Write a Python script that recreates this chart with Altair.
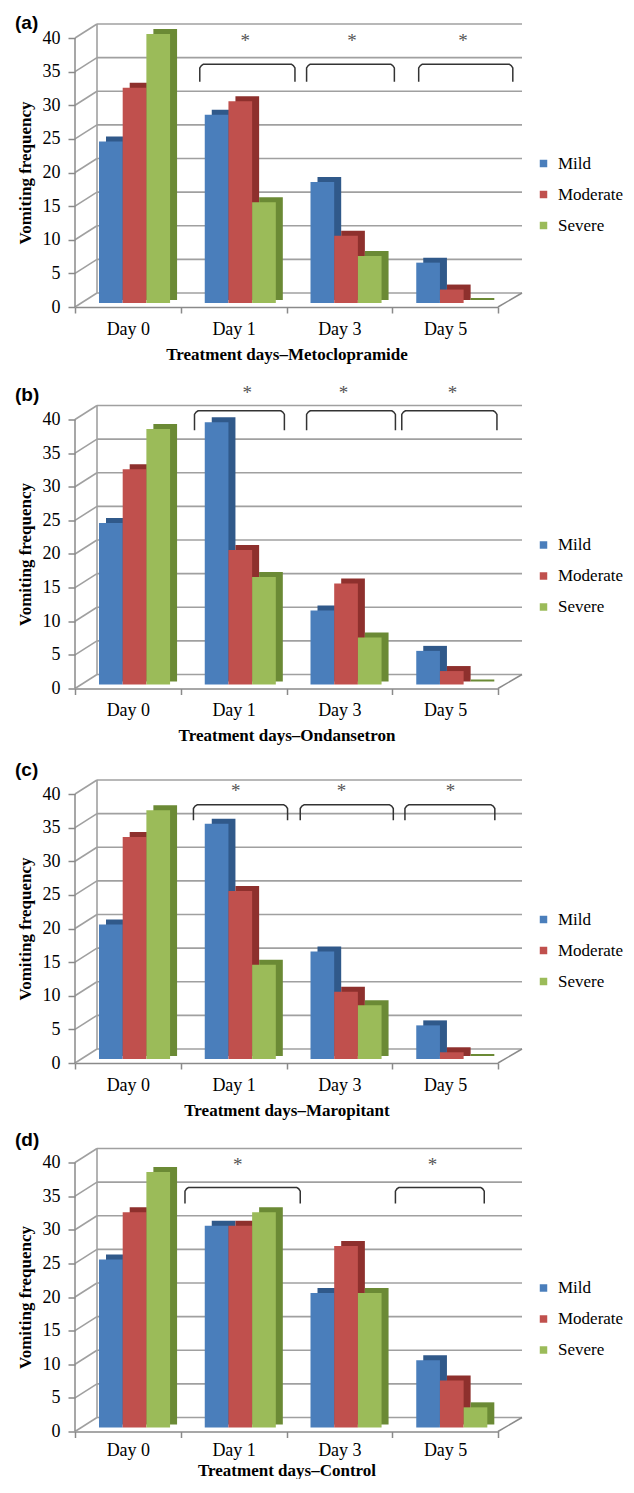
import json
import altair as alt
import pandas as pd

# ---------------- data ----------------
days = ["Day 0", "Day 1", "Day 3", "Day 5"]
severities = ["Mild", "Moderate", "Severe"]
panel_letters = ["(a)", "(b)", "(c)", "(d)"]
x_titles = [
    "Treatment days\u2013Metoclopramide",
    "Treatment days\u2013Ondansetron",
    "Treatment days\u2013Maropitant",
    "Treatment days\u2013Control",
]
y_title = "Vomiting frequency"

# one list per panel (a-d), values per day
mild = [[24, 28, 18, 6], [24, 39, 11, 5], [20, 35, 16, 5], [25, 30, 20, 10]]
moderate = [[32, 30, 10, 2], [32, 20, 15, 2], [33, 25, 10, 1], [32, 30, 27, 7]]
severe = [[40, 15, 7, 0], [38, 16, 7, 0], [37, 14, 8, 0], [38, 32, 20, 3]]

y_ticks = [0, 5, 10, 15, 20, 25, 30, 35, 40]
y_top = [40, 42.23, 41.19, 40.30]          # top of each plot area (value units)

# significance brackets (day units on the x axis) and asterisks
bracket_start = [[1.18, 2.19, 3.25], [1.13, 2.19, 3.09], [1.12, 2.13, 3.12], [1.04, 3.03]]
bracket_end = [[2.08, 3.02, 4.14], [1.98, 3.03, 3.99], [2.01, 3.01, 3.97], [2.13, 3.87]]
bracket_top = [36.1, 41.3, 38.4, 36.3]
bracket_foot = [33.5, 38.4, 36.1, 33.9]
star_x = [[1.61, 2.62, 3.67], [1.63, 2.54, 3.57], [1.52, 2.52, 3.55], [1.54, 3.38]]
star_y = [39.6, 43.9, 40.5, 39.7]

# ---------------- style ----------------
front_colors = ["#4a7ebb", "#c0504d", "#9bbb59"]
dark_colors = ["#30598a", "#8e302d", "#6b8a35"]
GRID = "#a0a0a0"
AX = "#8a8a8a"
SERIF = "Liberation Serif"
SANS = "Liberation Sans"
PX = 269 / 40.0        # pixels per value unit
W = 423
S = 97.5
G0 = 0.227             # start of bar group inside a day band
BW = 0.224             # bar width in day units
TITLE_OFFSET = [-9.4, -20.7, -0.6, -1.9]
X_LABEL_PAD = [7, 7, 7, 4]
X_TITLE_PAD = [8, 8, 8, 3]


def panel(i):
    H = round(y_top[i] * PX)
    xs = alt.Scale(domain=[0, 4], nice=False, zero=False)
    ys = alt.Scale(domain=[0, y_top[i]], nice=False, zero=False)

    day_expr = (f"datum.value % 1 == 0.5 ? {json.dumps(days)}[floor(datum.value)] : ''")
    x_axis = alt.Axis(
        values=[k / 2 for k in range(9)], labelExpr=day_expr,
        tickOpacity={"condition": {"test": "datum.value % 1 == 0", "value": 1}, "value": 0},
        domainColor=AX, domainWidth=1.5, tickColor=AX, tickSize=6, tickWidth=1.5, grid=False,
        labelFont=SERIF, labelFontSize=18, labelColor="black", labelPadding=X_LABEL_PAD[i],
        labelOverlap=False, labelFlush=False,
        title=x_titles[i], titleFont=SERIF, titleFontSize=17, titleFontWeight="bold",
        titleColor="black", titlePadding=X_TITLE_PAD[i])
    y_axis = alt.Axis(
        values=y_ticks, domain=False, grid=False, tickColor=AX, tickSize=7, tickWidth=1.5,
        labelFont=SERIF, labelFontSize=18, labelColor="black", labelPadding=8,
        title=y_title, titleFont=SERIF, titleFontSize=17, titleFontWeight="bold",
        titleColor="black", titlePadding=8, titleY=H - 134.5)

    def X(f):
        return alt.X(f, scale=xs, axis=x_axis)

    def Y(f):
        return alt.Y(f, scale=ys, axis=y_axis)

    rows = []
    series = [mild, moderate, severe]
    for d_idx, d in enumerate(days):
        for s_idx, s in enumerate(severities):
            rows.append({"day": d, "d": d_idx, "sev": s, "s": s_idx,
                         "value": series[s_idx][i][d_idx], "dark": dark_colors[s_idx]})
    bars = pd.DataFrame(rows)

    grid_df = pd.DataFrame({"v": y_ticks})
    g = alt.Chart(grid_df).transform_calculate(xl="0", xr="4")
    agg = alt.Chart(grid_df).transform_aggregate(lo="min(v)", hi="max(v)").transform_calculate(xl="0", xr="4")

    back_h = g.mark_rule(color=GRID, strokeWidth=1.6, xOffset=22, x2Offset=24, yOffset=-14).encode(
        x=X("xl:Q"), x2="xr:Q", y=Y("v:Q"))
    diag = g.mark_rule(color=GRID, strokeWidth=1.6, x2Offset=22, y2Offset=-14).encode(
        x=X("xl:Q"), x2="xl:Q", y=Y("v:Q"), y2="v:Q")
    back_v = agg.mark_rule(color=GRID, strokeWidth=1.6, xOffset=22, yOffset=-14, y2Offset=-14).encode(
        x=X("xl:Q"), y=Y("lo:Q"), y2="hi:Q")
    front_v = agg.mark_rule(color=AX, strokeWidth=1.5).encode(
        x=X("xl:Q"), y=Y("lo:Q"), y2="hi:Q")
    floor_r = agg.mark_rule(color=AX, strokeWidth=1.5, x2Offset=24, y2Offset=-14).encode(
        x=X("xr:Q"), x2="xr:Q", y=Y("lo:Q"), y2="lo:Q")

    base = alt.Chart(bars).transform_calculate(
        x0=f"datum.d + {G0} + datum.s * {BW}",
        x1=f"datum.d + {G0} + (datum.s + 1) * {BW}",
        zero="0",
    )
    dark = base.mark_rect(xOffset=7, x2Offset=7, yOffset=-9, y2Offset=-7).encode(
        x=X("x0:Q"), x2="x1:Q", y=Y("value:Q"), y2="zero:Q",
        color=alt.Color("dark:N", scale=None))

    front = base.mark_rect(yOffset=-4, y2Offset=-4).encode(
        x=X("x0:Q"), x2="x1:Q", y=Y("value:Q"), y2="zero:Q",
        color=alt.Color("sev:N", scale=alt.Scale(domain=severities, range=front_colors),
                        legend=alt.Legend(title=None, orient="none", legendX=460, legendY=H - 152,
                                          symbolType="square", symbolSize=56, symbolStrokeWidth=0,
                                          labelFont=SERIF, labelFontSize=17, labelColor="black",
                                          rowPadding=13, labelOffset=6, padding=0)))

    brows = []
    for k, (a, b) in enumerate(zip(bracket_start[i], bracket_end[i])):
        t, f = bracket_top[i], bracket_foot[i]
        pts = [(a, f), (a, t - 0.55), (a + 0.015, t - 0.2), (a + 0.035, t), (b - 0.035, t),
               (b - 0.015, t - 0.2), (b, t - 0.55), (b, f)]
        for o, (px, py) in enumerate(pts):
            brows.append({"k": k, "o": o, "bx": px, "by": py})
    brackets = alt.Chart(pd.DataFrame(brows)).mark_line(
        color="#333333", strokeWidth=1.5, strokeJoin="round").encode(
        x=X("bx:Q"), y=Y("by:Q"), detail="k:N", order="o:Q")

    stars = alt.Chart(pd.DataFrame({"sx": star_x[i], "sy": [star_y[i]] * len(star_x[i]),
                                    "t": ["*"] * len(star_x[i])})).mark_text(
        font=SERIF, fontSize=19, color="#555555", baseline="middle").encode(
        x=X("sx:Q"), y=Y("sy:Q"), text="t:N")

    return alt.layer(back_h, diag, back_v, front_v, floor_r, dark, front, brackets, stars).properties(
        width=W, height=H,
        title=alt.TitleParams(text=panel_letters[i], anchor="start", frame="group", dx=-60,
                              offset=TITLE_OFFSET[i],
                              font=SANS, fontSize=19, fontWeight="bold", color="black"))


chart = alt.vconcat(*[panel(i) for i in range(4)], spacing=S, bounds="flush").resolve_scale(
    color="independent").resolve_legend(color="independent").properties(
    padding={"left": 7, "top": 5, "right": 0, "bottom": 0}).configure_view(stroke=None)

chart.save("out.html", embed_options={"renderer": "svg", "actions": False})
